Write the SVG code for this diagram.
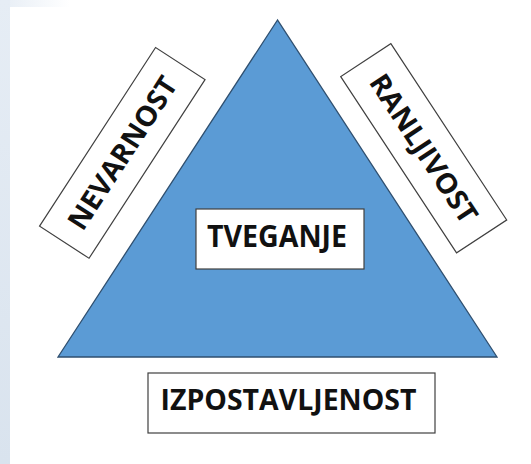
<svg xmlns="http://www.w3.org/2000/svg" width="531" height="464" viewBox="0 0 531 464">
  <defs>
    <linearGradient id="side" x1="0" y1="0" x2="0" y2="1">
      <stop offset="0" stop-color="#e6edf5"/>
      <stop offset="1" stop-color="#d9e3ee"/>
    </linearGradient>
    <linearGradient id="topfade" x1="0" y1="0" x2="1" y2="0">
      <stop offset="0" stop-color="#e6edf5"/>
      <stop offset="1" stop-color="#ffffff"/>
    </linearGradient>
  </defs>
  <style>
    .box { fill: #ffffff; stroke: #404040; stroke-width: 1.2; }
    .lbl { font-family: "Open Sans", "Liberation Sans", Arial, sans-serif; font-weight: 700; fill: #111111; text-anchor: middle; }
  </style>
  <rect x="0" y="0" width="531" height="464" fill="#ffffff"/>
  <rect x="0" y="0" width="70" height="7" fill="url(#topfade)"/>
  <rect x="0" y="0" width="10" height="464" fill="url(#side)"/>

  <g id="triangle">
    <polygon points="277.5,20 58,357 497,357" fill="#5b9bd5" stroke="#2f4f6f" stroke-width="1.3" stroke-linejoin="miter"/>
  </g>

  <g id="tveganje">
    <rect class="box" x="196" y="209" width="168" height="60" stroke="#1f2f3f" stroke-width="1.5"/>
    <text class="lbl" x="277" y="246.5" font-size="30" textLength="140" lengthAdjust="spacingAndGlyphs">TVEGANJE</text>
  </g>

  <g id="izpostavljenost">
    <rect class="box" x="148" y="373" width="287" height="60"/>
    <text class="lbl" x="288.5" y="409.5" font-size="28" textLength="256" lengthAdjust="spacingAndGlyphs">IZPOSTAVLJENOST</text>
  </g>

  <g id="nevarnost" transform="translate(122.3,152.9) rotate(-57)">
    <rect class="box" x="-106.5" y="-29.5" width="213" height="59"/>
    <text class="lbl" x="0" y="10" font-size="28" textLength="176" lengthAdjust="spacingAndGlyphs">NEVARNOST</text>
  </g>

  <g id="ranljivost" transform="translate(423.7,148.3) rotate(56.7)">
    <rect class="box" x="-105.5" y="-30" width="211" height="60"/>
    <text class="lbl" x="0" y="10" font-size="28" textLength="172" lengthAdjust="spacingAndGlyphs">RANLJIVOST</text>
  </g>

  <g id="connectors"></g>
</svg>
